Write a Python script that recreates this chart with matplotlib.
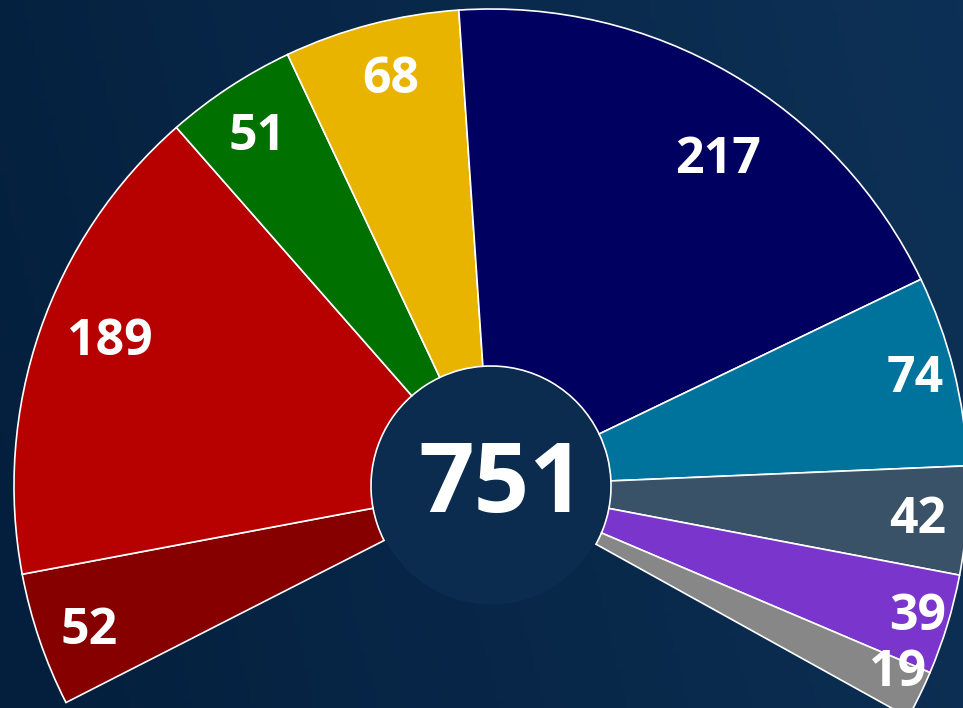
import numpy as np
import matplotlib.pyplot as plt
from matplotlib.patches import Circle
from matplotlib.colors import LinearSegmentedColormap

# seats per group, in drawing order (left to right)
seats = [52, 189, 51, 68, 217, 74, 42, 39, 19]
colors = ['#870000', '#b70000', '#007000', '#e8b400', '#000060',
          '#00739d', '#3a5268', '#7a35cc', '#878787']
total = sum(seats)

span = 236.0      # degrees covered by the ring
start = 207.0
cx, cy = 491, 222
r_out, r_in = 477, 120

plt.rcParams['font.family'] = ['Open Sans', 'DejaVu Sans']

fig = plt.figure(figsize=(9.63, 7.08), dpi=100)
ax = fig.add_axes([0, 0, 1, 1])
ax.axis('off')

# background gradient
bg = LinearSegmentedColormap.from_list('bg', ['#041f3d', '#0d3156'])
gx, gy = np.meshgrid(np.linspace(0, 1, 200), np.linspace(0, 1, 200))
ax.imshow(0.85 * gx + 0.15 * gy, cmap=bg, extent=[0, 963, 0, 708],
          origin='lower', aspect='auto', zorder=0)

fracs = [s / total * span / 360.0 for s in seats]
wedges, _ = ax.pie(fracs, colors=colors, startangle=start, counterclock=False,
                   normalize=False, radius=r_out, center=(cx, cy),
                   wedgeprops=dict(width=r_out - r_in, edgecolor='white',
                                   linewidth=1.2, zorder=2))
ax.set_xlim(0, 963)
ax.set_ylim(0, 708)
ax.set_aspect('equal')

ax.add_patch(Circle((cx, cy), r_in - 1.5, facecolor='#0b2c4e',
                    edgecolor='none', zorder=3))
# digits sit on the baseline; shift by half the digit height
ax.text(cx + 11, cy + 8.5 - 34.5, str(total), color='white', fontsize=70,
        fontweight='bold', ha='center', va='baseline', zorder=4)

# label placement tweaks (radius fraction, angle shift)
lab_r = [0.892, 0.859, 0.890, 0.887, 0.842, 0.920, 0.897, 0.933, 0.933]
lab_da = [0.4, -2.3, 0.25, -0.8, -4.2, 0.8, 0.3, 0.5, 1.9]
for w, s, rf, da in zip(wedges, seats, lab_r, lab_da):
    a = np.deg2rad((w.theta1 + w.theta2) / 2 + da)
    ax.text(cx + rf * r_out * np.cos(a), cy + rf * r_out * np.sin(a) - 18,
            str(s), color='white', fontsize=36, fontweight='bold',
            ha='center', va='baseline', zorder=5)

fig.savefig('out.png', dpi=100)
